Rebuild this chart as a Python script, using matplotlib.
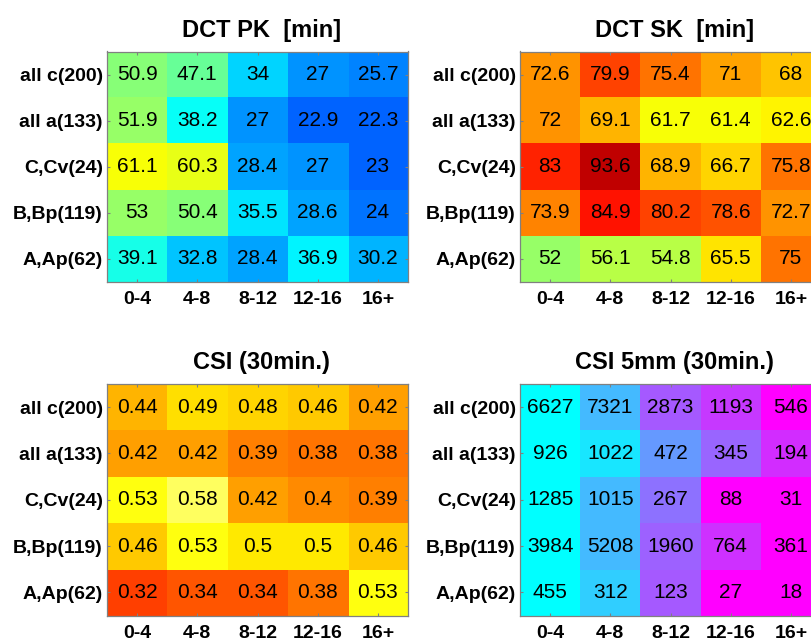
"""Four MATLAB-style heat tables: DCT PK / DCT SK / CSI / CSI 5mm by lead-time bin."""
import numpy as np
import matplotlib
matplotlib.use("Agg")
import matplotlib.pyplot as plt
from matplotlib.colors import LinearSegmentedColormap

plt.rcParams["font.family"] = ["Liberation Sans", "DejaVu Sans"]

rows = ["all c(200)", "all a(133)", "C,Cv(24)", "B,Bp(119)", "A,Ap(62)"]
cols = ["0-4", "4-8", "8-12", "12-16", "16+"]

dct_pk = [[50.9, 47.1, 34, 27, 25.7],
          [51.9, 38.2, 27, 22.9, 22.3],
          [61.1, 60.3, 28.4, 27, 23],
          [53, 50.4, 35.5, 28.6, 24],
          [39.1, 32.8, 28.4, 36.9, 30.2]]

dct_sk = [[72.6, 79.9, 75.4, 71, 68],
          [72, 69.1, 61.7, 61.4, 62.6],
          [83, 93.6, 68.9, 66.7, 75.8],
          [73.9, 84.9, 80.2, 78.6, 72.7],
          [52, 56.1, 54.8, 65.5, 75]]

csi = [[0.44, 0.49, 0.48, 0.46, 0.42],
       [0.42, 0.42, 0.39, 0.38, 0.38],
       [0.53, 0.58, 0.42, 0.4, 0.39],
       [0.46, 0.53, 0.5, 0.5, 0.46],
       [0.32, 0.34, 0.34, 0.38, 0.53]]

csi5 = [[6627, 7321, 2873, 1193, 546],
        [926, 1022, 472, 345, 194],
        [1285, 1015, 267, 88, 31],
        [3984, 5208, 1960, 764, 361],
        [455, 312, 123, 27, 18]]

# cell shading of the CSI 5mm panel (0 = cyan, 1 = magenta)
csi5_shade = [[0.0, 0.28, 0.65, 0.78, 1.0],
              [0.0, 0.10, 0.40, 0.60, 0.82],
              [0.0, 0.28, 0.55, 1.0, 1.0],
              [0.0, 0.28, 0.62, 0.80, 1.0],
              [0.0, 0.20, 0.65, 1.0, 1.0]]

W, H = 811, 639
GREY = "#808080"

# MATLAB's jet (differs a bit from matplotlib's)
mjet = LinearSegmentedColormap("mjet", {
    "red":   [(0, 0, 0), (3 / 8, 0, 0), (5 / 8, 1, 1), (7 / 8, 1, 1), (1, 0.5, 0.5)],
    "green": [(0, 0, 0), (1 / 8, 0, 0), (3 / 8, 1, 1), (5 / 8, 1, 1), (7 / 8, 0, 0), (1, 0, 0)],
    "blue":  [(0, 0.5, 0.5), (1 / 8, 1, 1), (3 / 8, 1, 1), (5 / 8, 0, 0), (1, 0, 0)],
}, N=64)


def px_axes(fig, left, top, right, bottom):
    return fig.add_axes([left / W, 1 - bottom / H, (right - left) / W, (bottom - top) / H])


def table(ax, colour, labels, cmap, vmin, vmax, title):
    if isinstance(cmap, str):
        cmap = plt.get_cmap(cmap, 64)
    ax.imshow(np.asarray(colour, float), cmap=cmap, vmin=vmin, vmax=vmax,
              aspect="auto", interpolation="nearest")
    for i, row in enumerate(labels):
        for j, v in enumerate(row):
            ax.text(j, i, "%g" % v, ha="center", va="center", fontsize=15, color="black")
    ax.set_xticks(range(len(cols)))
    ax.set_xticklabels(cols, fontsize=14, fontweight="bold")
    ax.set_yticks(range(len(rows)))
    ax.set_yticklabels(rows, fontsize=14, fontweight="bold")
    # MATLAB style: ticks inside, on all four sides
    ax.tick_params(direction="in", length=2.4, width=0.8, color=GREY,
                   top=True, right=True, pad=3.0)
    ax.tick_params(axis="x", pad=6.5)
    for s in ax.spines.values():
        s.set_color(GREY)
        s.set_linewidth(0.9)
    ax.set_title(title, fontsize=17, fontweight="bold", pad=10.5, x=0.513)


fig = plt.figure(figsize=(W / 100, H / 100), dpi=100)

ax1 = px_axes(fig, 107, 51.5, 408, 282)
table(ax1, dct_pk, dct_pk, mjet, 0, 100, "DCT PK  [min]")

ax2 = px_axes(fig, 520, 51.5, 821, 282)
table(ax2, dct_sk, dct_sk, mjet, 0, 100, "DCT SK  [min]")

ax3 = px_axes(fig, 107, 384, 408, 615.5)
table(ax3, csi, csi, "hot", 0, 0.7, "CSI (30min.)")

ax4 = px_axes(fig, 520, 384, 821, 615.5)
table(ax4, csi5_shade, csi5, "cool", 0, 1, "CSI 5mm (30min.)")

fig.savefig("out.png", dpi=100)
